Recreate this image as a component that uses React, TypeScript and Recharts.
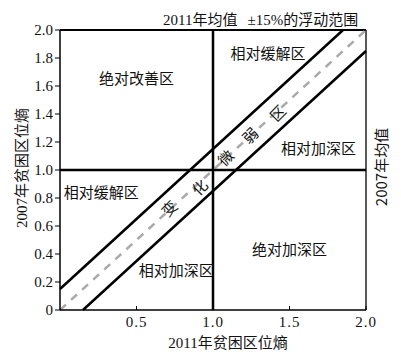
import React from "react";
import {
  ComposedChart,
  XAxis,
  YAxis,
  ReferenceLine,
  ReferenceDot,
} from "recharts";

// axis ticks
const xTicks = [0.5, 1.0, 1.5, 2.0];
const yTicks = [0, 0.2, 0.4, 0.6, 0.8, 1.0, 1.2, 1.4, 1.6, 1.8, 2.0];

// means and the ±15% band around y = x
const meanX2011 = 1.0;
const meanY2007 = 1.0;
const upperBand = [
  { x: 0, y: 0.15 },
  { x: 1.85, y: 2 },
];
const lowerBand = [
  { x: 0.15, y: 0 },
  { x: 2, y: 1.85 },
];
const parity = [
  { x: 0, y: 0 },
  { x: 2, y: 2 },
];

// zone labels (data coords)
const zoneLabels = [
  { text: "绝对改善区", x: 0.5, y: 1.66 },
  { text: "相对缓解区", x: 1.36, y: 1.84 },
  { text: "相对加深区", x: 1.69, y: 1.16 },
  { text: "相对缓解区", x: 0.27, y: 0.85 },
  { text: "相对加深区", x: 0.76, y: 0.29 },
  { text: "绝对加深区", x: 1.5, y: 0.44 },
];

// characters written along the band
const bandChars = [
  { text: "变", x: 0.71, y: 0.73 },
  { text: "化", x: 0.91, y: 0.88 },
  { text: "微", x: 1.08, y: 1.09 },
  { text: "弱", x: 1.24, y: 1.25 },
  { text: "区", x: 1.42, y: 1.41 },
];

const FONT = '"Liberation Serif", "Noto Sans CJK SC", serif';
const CJK = '"Noto Sans CJK SC", sans-serif';

const fmtY = (v: number) => (v === 0 ? "0" : v.toFixed(1));

export default function App() {
  return (
    <div
      style={{
        position: "absolute",
        left: 0,
        top: 0,
        width: 401,
        height: 356,
        background: "#fff",
      }}
    >
      <ComposedChart
        width={401}
        height={356}
        data={[]}
        margin={{ top: 30, right: 35, left: 0, bottom: 0 }}
      >
        <XAxis
          type="number"
          dataKey="x"
          domain={[0, 2]}
          ticks={xTicks}
          tickFormatter={(v) => v.toFixed(1)}
          height={46}
          tickSize={-4}
          tickMargin={10}
          axisLine={{ stroke: "#000", strokeWidth: 1.5 }}
          tickLine={{ stroke: "#000" }}
          tick={{ fontSize: 15, fill: "#111", fontFamily: FONT, letterSpacing: 1 }}
          allowDataOverflow
        />
        <YAxis
          type="number"
          dataKey="y"
          domain={[0, 2]}
          ticks={yTicks}
          tickFormatter={fmtY}
          width={60}
          tickSize={5}
          tickMargin={2}
          axisLine={{ stroke: "#000", strokeWidth: 1.5 }}
          tickLine={{ stroke: "#000" }}
          tick={{ fontSize: 15, fill: "#111", fontFamily: FONT }}
          allowDataOverflow
        />
        {/* frame */}
        <ReferenceLine y={2} stroke="#000" strokeWidth={2} />
        <ReferenceLine x={2} stroke="#222" strokeWidth={1.5} />

        {/* dashed y = x and the band */}
        <ReferenceLine
          segment={parity}
          stroke="#aaa"
          strokeWidth={2.5}
          strokeDasharray="8 7"
        />
        <ReferenceLine segment={upperBand} stroke="#000" strokeWidth={2.5} />
        <ReferenceLine segment={lowerBand} stroke="#000" strokeWidth={2.5} />

        {/* mean lines */}
        <ReferenceLine x={meanX2011} stroke="#000" strokeWidth={2.5} />
        <ReferenceLine y={meanY2007} stroke="#000" strokeWidth={2.5} />

        {zoneLabels.map((z, i) => (
          <ReferenceDot
            key={"z" + i}
            x={z.x}
            y={z.y}
            r={0}
            shape={(p: any) => (
              <text
                x={p.cx}
                y={p.cy}
                textAnchor="middle"
                dominantBaseline="central"
                fontSize={15}
                fontFamily={CJK}
                fill="#111"
              >
                {z.text}
              </text>
            )}
          />
        ))}
        {bandChars.map((c, i) => (
          <ReferenceDot
            key={"c" + i}
            x={c.x}
            y={c.y}
            r={0}
            shape={(p: any) => (
              <text
                x={p.cx}
                y={p.cy}
                textAnchor="middle"
                dominantBaseline="central"
                fontSize={15}
                fontFamily={CJK}
                fill="#111"
                transform={`rotate(-45 ${p.cx} ${p.cy})`}
              >
                {c.text}
              </text>
            )}
          />
        ))}
      </ComposedChart>
      <svg
        width={401}
        height={356}
        style={{ position: "absolute", left: 0, top: 0, pointerEvents: "none" }}
      >
        <text x={163} y={25} fontSize={15} fontFamily={FONT} fill="#111">
          <tspan>2011年均值</tspan>
          <tspan dx={10}>±15%的浮动范围</tspan>
        </text>
        <text
          x={22}
          y={168}
          textAnchor="middle"
          dominantBaseline="central"
          fontSize={15}
          fontFamily={FONT}
          fill="#111"
          transform="rotate(-90 22 168)"
        >
          2007年贫困区位熵
        </text>
        <text
          x={380}
          y={167}
          textAnchor="middle"
          dominantBaseline="central"
          fontSize={15}
          fontFamily={CJK}
          fill="#111"
          transform="rotate(-90 380 167)"
        >
          2007年均值
        </text>
        <text
          x={228}
          y={343}
          textAnchor="middle"
          dominantBaseline="central"
          fontSize={15}
          fontFamily={FONT}
          fill="#111"
        >
          2011年贫困区位熵
        </text>
      </svg>
    </div>
  );
}
